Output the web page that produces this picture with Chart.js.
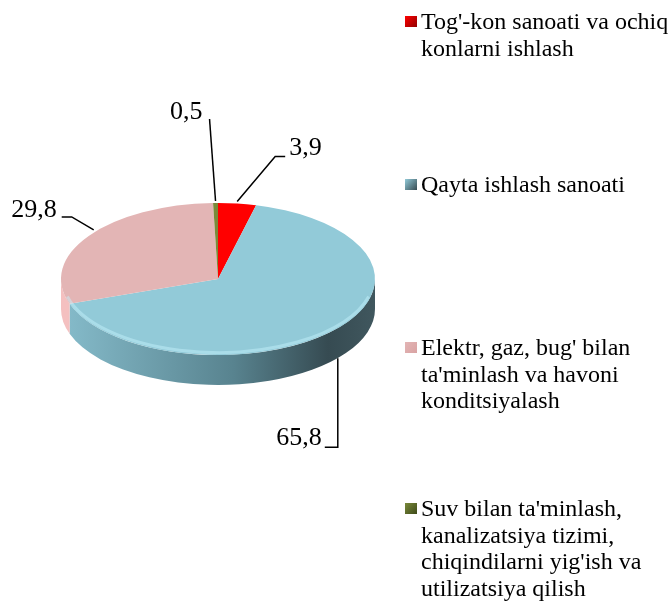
<!DOCTYPE html>
<html>
<head>
<meta charset="utf-8">
<script src="https://cdn.jsdelivr.net/npm/chart.js@4/dist/chart.umd.min.js"></script>
<style>
  html, body { margin: 0; padding: 0; background: #fff; }
  #wrap { width: 672px; height: 602px; }
</style>
</head>
<body>
<div id="wrap"><canvas id="pie" width="672" height="602"></canvas></div>
<script>
// ── Data ────────────────────────────────────────────────────────────────────
const categories = [
  ["Tog'-kon sanoati va ochiq", "konlarni ishlash"],
  ["Qayta ishlash sanoati"],
  ["Elektr, gaz, bug' bilan", "ta'minlash va havoni", "konditsiyalash"],
  ["Suv bilan ta'minlash,", "kanalizatsiya tizimi,", "chiqindilarni yig'ish va", "utilizatsiya qilish"]
];
const values = [3.9, 65.8, 29.8, 0.5];
const valueLabels = ['3,9', '65,8', '29,8', '0,5'];

// colours: top face, side
const topColors  = ['#ff0000', '#92cad8', '#e3b5b5', '#7a8a3a'];
const sideColors = [
  ['#c00000', '#900000'],
  ['#86bccb', '#364b52'],
  ['#f4c0c0', '#d9a3a3'],
  ['#5a6a28', '#3e4a1a']
];

const TILT = 0.484;   // vertical squash of the pie
const DEPTH = 30;     // thickness of the 3D side, px

// ── 3D pie plugin ───────────────────────────────────────────────────────────
const pie3d = {
  id: 'pie3d',
  beforeDatasetsDraw(chart) {
    const ctx = chart.ctx;
    const arcs = chart.getDatasetMeta(0).data;
    if (!arcs.length) return;
    const cx = arcs[0].x, cy = arcs[0].y, r = arcs[0].outerRadius, ry = r * TILT;

    // side walls (front half only)
    arcs.forEach((a, i) => {
      [[0, Math.PI], [2 * Math.PI, 3 * Math.PI]].forEach(([lo, hi]) => {
        const s = Math.max(a.startAngle, lo), e = Math.min(a.endAngle, hi);
        if (e <= s) return;
        const g = ctx.createLinearGradient(cx - r, 0, cx + r, 0);
        g.addColorStop(0, sideColors[i][0]);
        g.addColorStop(0.55, i === 1 ? '#58838f' : sideColors[i][0]);
        g.addColorStop(0.85, sideColors[i][1]);
        g.addColorStop(1, i === 1 ? '#40575e' : sideColors[i][1]);
        ctx.save();
        ctx.beginPath();
        ctx.ellipse(cx, cy, r, ry, 0, s, e, false);
        ctx.ellipse(cx, cy + DEPTH, r, ry, 0, e, s, true);
        ctx.closePath();
        ctx.fillStyle = g;
        ctx.fill();
        ctx.restore();
      });
    });

    // squash the top face
    ctx.save();
    ctx.translate(cx, cy);
    ctx.scale(1, TILT);
    ctx.translate(-cx, -cy);
  },
  afterDatasetsDraw(chart) {
    const ctx = chart.ctx;
    ctx.restore();
    const arcs = chart.getDatasetMeta(0).data;
    const cx = arcs[0].x, cy = arcs[0].y, r = arcs[0].outerRadius, ry = r * TILT;
    // soft light rim along the front edge
    ctx.save();
    ctx.beginPath();
    ctx.ellipse(cx, cy - 1, r - 1.5, ry - 1.5, 0, 0.25, Math.PI - 0.25, false);
    ctx.strokeStyle = 'rgba(200,245,255,0.45)';
    ctx.lineWidth = 3;
    ctx.stroke();
    ctx.restore();
  }
};

// ── Data labels with leader lines ───────────────────────────────────────────
const leaderLayout = [
  { pts: [[0, -2], [38, -47], [48, -47]], text: [52, -55], align: 'left' },
  { side: true, pts: [[4, -2], [4, 87], [-9, 87]], text: [-12, 78], align: 'right' },
  { pts: [[5, -6], [-17, -19], [-27, -19]], text: [-32, -26], align: 'right' },
  { pts: [[0, -2], [-6, -84]], text: [-13, -91], align: 'right' }
];

const dataLabels = {
  id: 'dataLabels',
  afterDraw(chart) {
    const ctx = chart.ctx;
    const arcs = chart.getDatasetMeta(0).data;
    ctx.save();
    ctx.strokeStyle = '#000';
    ctx.lineWidth = 1.5;
    ctx.fillStyle = '#000';
    ctx.font = '26px "Liberation Serif", "Times New Roman", serif';
    ctx.textBaseline = 'middle';
    arcs.forEach((a, i) => {
      const L = leaderLayout[i];
      const mid = (a.startAngle + a.endAngle) / 2;
      const ax = a.x + a.outerRadius * Math.cos(mid);
      const ay = a.y + a.outerRadius * TILT * Math.sin(mid) + (L.side ? DEPTH : 0);
      ctx.beginPath();
      L.pts.forEach(([dx, dy], k) => k ? ctx.lineTo(ax + dx, ay + dy) : ctx.moveTo(ax + dx, ay + dy));
      ctx.stroke();
      ctx.textAlign = L.align;
      ctx.fillText(valueLabels[i], ax + L.text[0], ay + L.text[1]);
    });
    ctx.restore();
  }
};

// ── Legend (right side, wrapped lines) ──────────────────────────────────────
const legendTops = [29, 192, 355, 516];
const sideLegend = {
  id: 'sideLegend',
  afterDraw(chart) {
    const ctx = chart.ctx;
    ctx.save();
    ctx.font = '24px "Liberation Serif", "Times New Roman", serif';
    ctx.textBaseline = 'alphabetic';
    ctx.textAlign = 'left';
    chart.data.labels.forEach((lines, i) => {
      const y0 = legendTops[i];
      // marker
      const g = ctx.createLinearGradient(405, y0 - 13, 417, y0 - 2);
      g.addColorStop(0, topColors[i]);
      g.addColorStop(1, sideColors[i][1]);
      ctx.fillStyle = g;
      ctx.fillRect(405, y0 - 13, 12, 11);
      ctx.fillStyle = '#000';
      lines.forEach((t, k) => ctx.fillText(t, 421, y0 + k * 26.5));
    });
    ctx.restore();
  }
};

new Chart(document.getElementById('pie'), {
  type: 'pie',
  data: {
    labels: categories,
    datasets: [{
      data: values,
      backgroundColor: topColors,
      borderWidth: 0,
      hoverOffset: 0
    }]
  },
  options: {
    responsive: false,
    animation: false,
    layout: { padding: { left: 61, right: 297, top: 122, bottom: 166 } },
    plugins: {
      legend: { display: false },
      tooltip: { enabled: false }
    }
  },
  plugins: [pie3d, dataLabels, sideLegend]
});
</script>
</body>
</html>
